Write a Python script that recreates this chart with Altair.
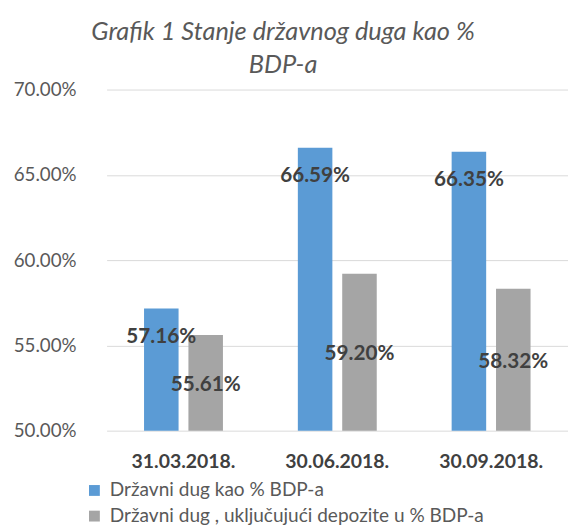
import altair as alt
import pandas as pd

dates = ["31.03.2018.", "30.06.2018.", "30.09.2018."]
series = ["Državni dug kao % BDP-a", "Državni dug , uključujući depozite u % BDP-a"]
debt = [57.16, 66.59, 66.35]
debt_dep = [55.61, 59.20, 58.32]
y_ticks = [50, 55, 60, 65, 70]
colors = ["#5B9BD5", "#A5A5A5"]

rows = []
for i, d in enumerate(dates):
    rows.append({"date": d, "series": series[0], "value": debt[i]})
    rows.append({"date": d, "series": series[1], "value": debt_dep[i]})
df = pd.DataFrame(rows)

FONT = "Lato"

x = alt.X("date:N", sort=dates, title=None,
          scale=alt.Scale(paddingInner=0.487, paddingOuter=0.2435),
          axis=alt.Axis(labelFont=FONT, labelFontSize=19.7, labelFontWeight="bold",
                        labelColor="#404040", labelPadding=21, ticks=False,
                        domain=False, labelAngle=0, grid=False))
xo = alt.XOffset("series:N", sort=series, scale=alt.Scale(paddingInner=0.222, paddingOuter=0))
yscale = alt.Scale(domain=[50, 70], nice=False, zero=False)
color = alt.Color("series:N", sort=series, scale=alt.Scale(domain=series, range=colors),
                  legend=alt.Legend(title=None, orient="none", legendX=-22, legendY=397,
                                    direction="vertical", symbolType="square", symbolSize=121,
                                    symbolStrokeWidth=0, labelFont=FONT, labelFontSize=19.3,
                                    labelColor="#595959", rowPadding=6, labelOffset=6,
                                    labelLimit=600))

bars = alt.Chart(df).mark_bar().encode(
    x=x, xOffset=xo,
    y=alt.Y("value:Q", scale=yscale, title=None,
            axis=alt.Axis(values=y_ticks, labelExpr="format(datum.value, '.2f') + '%'",
                          labelFont=FONT, labelFontSize=19, labelColor="#595959",
                          labelPadding=31, ticks=False, domain=False,
                          gridColor="#D9D9D9", gridWidth=1)),
    y2=alt.datum(50),
    color=color,
)

label_base = alt.Chart(df).transform_calculate(
    lbl="format(datum.value, '.2f') + '%'",
    mid="(datum.value + 50) / 2",
)

blue_labels = label_base.transform_filter(alt.datum.series == series[0]).mark_text(
    font=FONT, fontSize=21, fontWeight="bold", color="#404040", baseline="middle", dy=29
).encode(x=x, xOffset=xo, y=alt.Y("value:Q", scale=yscale), text="lbl:N")

grey_labels = label_base.transform_filter(alt.datum.series == series[1]).mark_text(
    font=FONT, fontSize=21, fontWeight="bold", color="#404040", baseline="middle", dy=2
).encode(x=x, xOffset=xo, y=alt.Y("mid:Q", scale=yscale), text="lbl:N")

chart = alt.layer(bars, blue_labels, grey_labels).properties(
    width=468, height=346,
    autosize=alt.AutoSizeParams(type="none"),
    padding={"left": 100, "top": 79, "right": 0, "bottom": 94},
    title=alt.TitleParams(text=["Grafik 1 Stanje državnog duga kao %", "BDP-a"],
                          font=FONT, fontStyle="italic", fontWeight="normal", fontSize=25.7,
                          color="#595959", anchor="middle", dx=-55, offset=2, lineHeight=34),
).configure_view(stroke=None)

chart.save("out.html", embed_options={"renderer": "svg", "actions": False})
